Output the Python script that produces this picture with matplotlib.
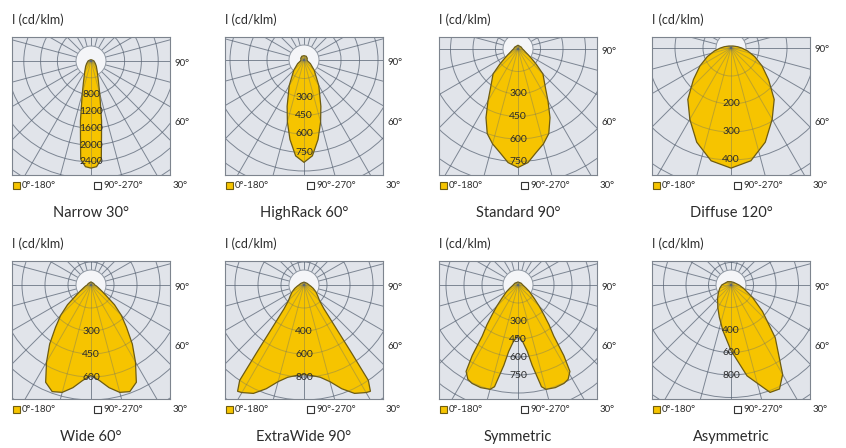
import matplotlib

matplotlib.use("Agg")
import matplotlib.pyplot as plt  # noqa: E402
import numpy as np  # noqa: E402
from matplotlib.patches import Circle, Rectangle  # noqa: E402

plt.rcParams["font.family"] = ["Lato", "DejaVu Sans"]

W, H = 846, 448

TITLES = ["Narrow 30°", "HighRack 60°", "Standard 90°", "Diffuse 120°",
          "Wide 60°", "ExtraWide 90°", "Symmetric", "Asymmetric"]

# ring labels written on the vertical axis (cd/klm)
NARROW_RINGS = [800, 1200, 1600, 2000, 2400]
HIGHRACK_RINGS = [300, 450, 600, 750]
STANDARD_RINGS = [300, 450, 600, 750]
DIFFUSE_RINGS = [200, 300, 400]
WIDE_RINGS = [300, 450, 600]
EXTRAWIDE_RINGS = [400, 600, 800]
SYMMETRIC_RINGS = [300, 450, 600, 750]
ASYMMETRIC_RINGS = [400, 600, 800]

# intensity curves, C0-C180 plane; gamma measured from nadir (deg)
NARROW_GAMMA = [0, 3, 6, 8, 10, 12, 15, 20, 30, 45, 60, 90, 120, 180]
NARROW_I = [2550, 2520, 2350, 1800, 1450, 1100, 800, 520, 300, 180, 120, 70, 40, 30]

HIGHRACK_GAMMA = [0, 5, 10, 15, 20, 30, 45, 60, 75, 90, 120, 150, 180]
HIGHRACK_I = [830, 780, 655, 520, 400, 240, 117, 60, 30, 25, 30, 35, 35]

STANDARD_GAMMA = [0, 5, 10, 15, 20, 25, 30, 35, 40, 45, 50, 55, 60, 70, 80, 90, 120, 180]
STANDARD_I = [790, 760, 700, 655, 600, 505, 400, 320, 270, 235, 160, 110, 80, 50, 38, 30, 25, 25]

DIFFUSE_GAMMA = [0, 10, 20, 30, 40, 50, 60, 70, 80, 90, 100, 110, 120, 135, 180]
DIFFUSE_I = [429, 409, 358, 294, 240, 175, 128, 90, 60, 38, 25, 17, 13, 10, 7]

WIDE_GAMMA = [0, 5, 10, 15, 20, 25, 30, 35, 40, 45, 50, 55, 60, 70, 80, 90, 120, 180]
WIDE_I = [590, 625, 680, 725, 740, 700, 580, 470, 360, 280, 200, 120, 85, 50, 35, 25, 20, 20]

EXTRAWIDE_GAMMA = [0, 5, 10, 15, 20, 25, 30, 32, 34, 35, 37, 40, 45, 50, 60, 70, 80, 90, 120, 180]
EXTRAWIDE_I = [780, 790, 815, 870, 960, 1040, 1080, 1090, 1000, 720, 430, 270, 190, 160, 120,
               85, 60, 45, 30, 25]

SYMMETRIC_GAMMA = [0, 5, 8, 10, 13, 15, 20, 25, 28, 31, 33, 35, 38, 41, 45, 50, 60, 70, 80, 90, 120, 180]
SYMMETRIC_I = [420, 480, 560, 680, 870, 900, 910, 905, 890, 840, 700, 520, 420, 330, 250, 180,
               110, 70, 50, 40, 30, 25]

# asymmetric: signed gamma, negative = C180 side
ASYMMETRIC_GAMMA = [-180, -135, -90, -75, -60, -45, -30, -20, -10, 0, 10, 20, 25, 30, 40,
                    50, 60, 75, 90, 135, 180]
ASYMMETRIC_I = [29, 42, 82, 102, 129, 169, 234, 304, 413, 582, 820, 1016, 1020, 918, 612,
                365, 221, 116, 71, 33, 29]

PANELS = [
    dict(gamma=NARROW_GAMMA, inten=NARROW_I, rings=NARROW_RINGS, step=400, px=16.8, cy=24, sym=True),
    dict(gamma=HIGHRACK_GAMMA, inten=HIGHRACK_I, rings=HIGHRACK_RINGS, step=150, px=18.5, cy=23, sym=True),
    dict(gamma=STANDARD_GAMMA, inten=STANDARD_I, rings=STANDARD_RINGS, step=150, px=22.5, cy=12, sym=True),
    dict(gamma=DIFFUSE_GAMMA, inten=DIFFUSE_I, rings=DIFFUSE_RINGS, step=100, px=28.0, cy=11, sym=True),
    dict(gamma=WIDE_GAMMA, inten=WIDE_I, rings=WIDE_RINGS, step=150, px=23.0, cy=24, sym=True),
    dict(gamma=EXTRAWIDE_GAMMA, inten=EXTRAWIDE_I, rings=EXTRAWIDE_RINGS, step=200, px=23.0, cy=24, sym=True),
    dict(gamma=SYMMETRIC_GAMMA, inten=SYMMETRIC_I, rings=SYMMETRIC_RINGS, step=150, px=18.0, cy=24, sym=True),
    dict(gamma=ASYMMETRIC_GAMMA, inten=ASYMMETRIC_I, rings=ASYMMETRIC_RINGS, step=200, px=22.5, cy=24, sym=False),
]

BOX_LEFT = [12, 225, 439, 652]
BOX_TOP = [37, 261]
BOX_W, BOX_H = 158, 138
LAMP_PX = 15

YELLOW = "#f6c400"
OUTLINE = "#6e5c10"
GRID = "#5b6676"
BG = "#e1e4ea"
TXT = "#2b2b2b"


def fx(x):
    return x / W


def fy(y):
    return 1 - y / H


def draw_grid(ax, step, r0, rmax, zorder, alpha, clip=None):
    arts = []
    for k in range(1, int(rmax / step) + 1):
        if k * step < r0 * 1.3:
            continue
        c = Circle((0, 0), k * step, fill=False, ec=GRID, lw=0.7, alpha=alpha, zorder=zorder)
        ax.add_patch(c)
        arts.append(c)
    for a in range(0, 360, 15):
        t = np.radians(a)
        ln, = ax.plot([r0 * np.sin(t), rmax * np.sin(t)], [r0 * np.cos(t), rmax * np.cos(t)],
                      color=GRID, lw=0.7, alpha=alpha, zorder=zorder)
        arts.append(ln)
    if clip is not None:
        for art in arts:
            art.set_clip_path(clip)


def draw_panel(fig, idx, cfg):
    col, row = idx % 4, idx // 4
    left, top = BOX_LEFT[col], BOX_TOP[row]
    ax = fig.add_axes([fx(left), fy(top + BOX_H), BOX_W / W, BOX_H / H])
    s = cfg["px"] / cfg["step"]  # pixels per cd/klm
    cy = cfg["cy"]
    ax.set_xlim(-BOX_W / 2 / s, BOX_W / 2 / s)
    ax.set_ylim(-(BOX_H - cy) / s, cy / s)
    ax.set_facecolor(BG)
    ax.set_xticks([])
    ax.set_yticks([])
    for sp in ax.spines.values():
        sp.set_color("#7d848e")
        sp.set_linewidth(0.8)

    rmax = 220 / s
    r0 = LAMP_PX / s
    draw_grid(ax, cfg["step"], r0, rmax, 1, 0.75)
    ax.add_patch(Circle((0, 0), r0, fc="#f4f5f8", ec="#9199a4", lw=0.7, zorder=1.5))

    g = np.radians(np.asarray(cfg["gamma"], dtype=float))
    r = np.asarray(cfg["inten"], dtype=float)
    x = r * np.sin(g)
    y = -r * np.cos(g)
    if cfg["sym"]:
        x = np.concatenate([x, -x[::-1]])
        y = np.concatenate([y, y[::-1]])
    poly = ax.fill(x, y, fc=YELLOW, ec=OUTLINE, lw=0.9, zorder=2)[0]
    draw_grid(ax, cfg["step"], 0, rmax, 2.5, 0.35, clip=poly)

    for v in cfg["rings"]:
        ax.text(0, -v, str(v), ha="center", va="center", fontsize=7.5, color=TXT, zorder=4)

    # surrounding texts
    fig.text(fx(left), fy(top - 17), "I (cd/klm)", ha="left", va="center",
             fontsize=9, color=TXT)
    fig.text(fx(left + BOX_W + 4), fy(top + cy + 2), "90°", ha="left", va="center",
             fontsize=7, color=TXT)
    fig.text(fx(left + BOX_W + 4), fy(top + 85), "60°", ha="left", va="center",
             fontsize=7, color=TXT)
    ly = top + 148
    fig.text(fx(left + BOX_W + 3), fy(ly), "30°", ha="left", va="center",
             fontsize=7, color=TXT)
    fig.add_artist(Rectangle((fx(left + 1), fy(ly + 3.5)), 7 / W, 7 / H, fc=YELLOW,
                             ec=OUTLINE, lw=0.8, transform=fig.transFigure))
    fig.text(fx(left + 10), fy(ly), "0°-180°", ha="left", va="center",
             fontsize=7, color=TXT)
    fig.add_artist(Rectangle((fx(left + 82), fy(ly + 3.5)), 7 / W, 7 / H, fc="white",
                             ec="#333333", lw=0.8, transform=fig.transFigure))
    fig.text(fx(left + 91), fy(ly), "90°-270°", ha="left", va="center",
             fontsize=7, color=TXT)
    fig.text(fx(left + BOX_W / 2), fy(top + 176), TITLES[idx], ha="center", va="center",
             fontsize=10.5, color=TXT)


fig = plt.figure(figsize=(W / 100, H / 100), dpi=100)
fig.patch.set_facecolor("white")
for i, cfg in enumerate(PANELS):
    draw_panel(fig, i, cfg)
fig.savefig("out.png", dpi=100)
